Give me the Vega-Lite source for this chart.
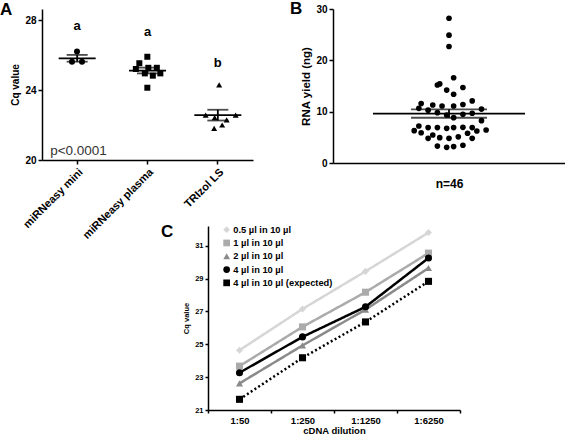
{
  "$schema": "https://vega.github.io/schema/vega-lite/v6.json",
  "background": "white",
  "padding": {"left": 0, "top": 0, "right": 0, "bottom": 0},
  "config": {
    "font": "Liberation Sans",
    "view": {"stroke": null},
    "axis": {"grid": false, "domainColor": "black", "domainWidth": 1.5, "tickColor": "black", "tickWidth": 1.5, "tickSize": 4, "labelColor": "black", "titleColor": "black", "labelFontWeight": "bold", "titleFontWeight": "bold", "labelFont": "Liberation Sans", "titleFont": "Liberation Sans"},
    "title": {"font": "Liberation Sans", "fontWeight": "bold", "fontSize": 17, "anchor": "start", "frame": "group", "color": "black", "baseline": "alphabetic"}
  },
  "datasets": {
    "cq": [
      {"method": "miRNeasy mini", "cq": 26.2, "col": 0},
      {"method": "miRNeasy mini", "cq": 25.62, "col": -1},
      {"method": "miRNeasy mini", "cq": 25.62, "col": 1},
      {"method": "miRNeasy plasma", "cq": 25.9, "col": 0},
      {"method": "miRNeasy plasma", "cq": 25.53, "col": -1.6},
      {"method": "miRNeasy plasma", "cq": 25.2, "col": -2.3},
      {"method": "miRNeasy plasma", "cq": 25.27, "col": 0.2},
      {"method": "miRNeasy plasma", "cq": 25.27, "col": 1.9},
      {"method": "miRNeasy plasma", "cq": 24.95, "col": -0.5},
      {"method": "miRNeasy plasma", "cq": 24.82, "col": 1.1},
      {"method": "miRNeasy plasma", "cq": 24.95, "col": 2.6},
      {"method": "miRNeasy plasma", "cq": 24.13, "col": 0},
      {"method": "TRIzol LS", "cq": 24.29, "col": 0.3},
      {"method": "TRIzol LS", "cq": 22.57, "col": -2.4},
      {"method": "TRIzol LS", "cq": 22.57, "col": 3.6},
      {"method": "TRIzol LS", "cq": 22.42, "col": -0.6},
      {"method": "TRIzol LS", "cq": 22.29, "col": 1.8},
      {"method": "TRIzol LS", "cq": 22.0, "col": 0.9},
      {"method": "TRIzol LS", "cq": 21.81, "col": -0.7}
    ],
    "letters": [
      {"method": "miRNeasy mini", "label": "a", "pos": 27.66},
      {"method": "miRNeasy plasma", "label": "a", "pos": 27.3},
      {"method": "TRIzol LS", "label": "b", "pos": 25.53}
    ],
    "yield": [
      {"sample": "plasma", "ng": 28.2, "col": 0},
      {"sample": "plasma", "ng": 24.9, "col": 0},
      {"sample": "plasma", "ng": 22.7, "col": 0},
      {"sample": "plasma", "ng": 16.6, "col": 1},
      {"sample": "plasma", "ng": 15.2, "col": -2.5},
      {"sample": "plasma", "ng": 15.4, "col": -2},
      {"sample": "plasma", "ng": 14.2, "col": -0.5},
      {"sample": "plasma", "ng": 14.7, "col": 3},
      {"sample": "plasma", "ng": 13.4, "col": 1},
      {"sample": "plasma", "ng": 11.6, "col": -6},
      {"sample": "plasma", "ng": 11.3, "col": -3.5},
      {"sample": "plasma", "ng": 11.1, "col": -1.5},
      {"sample": "plasma", "ng": 11.1, "col": 1},
      {"sample": "plasma", "ng": 11.4, "col": 3},
      {"sample": "plasma", "ng": 12.1, "col": 5},
      {"sample": "plasma", "ng": 10.65, "col": -6.5},
      {"sample": "plasma", "ng": 10.3, "col": -4.5},
      {"sample": "plasma", "ng": 10.5, "col": 7},
      {"sample": "plasma", "ng": 9.8, "col": -2.5},
      {"sample": "plasma", "ng": 9.35, "col": -0.5},
      {"sample": "plasma", "ng": 8.83, "col": 1},
      {"sample": "plasma", "ng": 9.5, "col": 3},
      {"sample": "plasma", "ng": 9.7, "col": 5},
      {"sample": "plasma", "ng": 8.25, "col": 7},
      {"sample": "plasma", "ng": 7.2, "col": -6.5},
      {"sample": "plasma", "ng": 6.9, "col": -4.5},
      {"sample": "plasma", "ng": 6.9, "col": -2.5},
      {"sample": "plasma", "ng": 6.75, "col": -0.5},
      {"sample": "plasma", "ng": 6.9, "col": 1},
      {"sample": "plasma", "ng": 6.95, "col": 3},
      {"sample": "plasma", "ng": 6.9, "col": 5},
      {"sample": "plasma", "ng": 6.3, "col": -7.5},
      {"sample": "plasma", "ng": 5.9, "col": -6},
      {"sample": "plasma", "ng": 6.23, "col": 6},
      {"sample": "plasma", "ng": 6.43, "col": 8},
      {"sample": "plasma", "ng": 5.45, "col": -3.5},
      {"sample": "plasma", "ng": 4.8, "col": -4.5},
      {"sample": "plasma", "ng": 4.93, "col": -2},
      {"sample": "plasma", "ng": 4.8, "col": 0},
      {"sample": "plasma", "ng": 5.1, "col": 2},
      {"sample": "plasma", "ng": 5.8, "col": 4},
      {"sample": "plasma", "ng": 4.8, "col": 5},
      {"sample": "plasma", "ng": 3.3, "col": -2.5},
      {"sample": "plasma", "ng": 3.05, "col": -0.5},
      {"sample": "plasma", "ng": 3.2, "col": 1},
      {"sample": "plasma", "ng": 3.45, "col": 3}
    ],
    "dil": [
      {"series": "0.5 µl in 10 µl", "dilution": "1:50", "cq": 24.64},
      {"series": "0.5 µl in 10 µl", "dilution": "1:250", "cq": 27.15},
      {"series": "0.5 µl in 10 µl", "dilution": "1:1250", "cq": 29.44},
      {"series": "0.5 µl in 10 µl", "dilution": "1:6250", "cq": 31.8},
      {"series": "1 µl in 10 µl", "dilution": "1:50", "cq": 23.67},
      {"series": "1 µl in 10 µl", "dilution": "1:250", "cq": 26.06},
      {"series": "1 µl in 10 µl", "dilution": "1:1250", "cq": 28.17},
      {"series": "1 µl in 10 µl", "dilution": "1:6250", "cq": 30.55},
      {"series": "2 µl in 10 µl", "dilution": "1:50", "cq": 22.62},
      {"series": "2 µl in 10 µl", "dilution": "1:250", "cq": 24.93},
      {"series": "2 µl in 10 µl", "dilution": "1:1250", "cq": 27.11},
      {"series": "2 µl in 10 µl", "dilution": "1:6250", "cq": 29.64},
      {"series": "4 µl in 10 µl", "dilution": "1:50", "cq": 23.27},
      {"series": "4 µl in 10 µl", "dilution": "1:250", "cq": 25.45},
      {"series": "4 µl in 10 µl", "dilution": "1:1250", "cq": 27.28},
      {"series": "4 µl in 10 µl", "dilution": "1:6250", "cq": 30.25},
      {"series": "4 µl in 10 µl (expected)", "dilution": "1:50", "cq": 21.65},
      {"series": "4 µl in 10 µl (expected)", "dilution": "1:250", "cq": 24.18},
      {"series": "4 µl in 10 µl (expected)", "dilution": "1:1250", "cq": 26.36},
      {"series": "4 µl in 10 µl (expected)", "dilution": "1:6250", "cq": 28.83}
    ]
  },
  "bounds": "flush",
  "spacing": 217,
  "resolve": {"scale": {"xOffset": "independent", "color": "independent", "shape": "independent", "strokeDash": "independent"}, "legend": {"color": "independent", "shape": "independent", "strokeDash": "independent"}},
  "vconcat": [
    {
      "bounds": "flush",
      "spacing": 80,
      "resolve": {"scale": {"xOffset": "independent", "shape": "independent"}, "legend": {"shape": "independent"}},
      "hconcat": [
        {
          "width": 211,
          "height": 151,
          "title": {"text": "A", "dx": -42, "offset": -10},
          "layer": [
            {
              "data": {"name": "cq"},
              "mark": {"type": "point", "filled": true, "size": 36, "opacity": 1, "color": "black"},
              "encoding": {
                "x": {"field": "method", "type": "nominal", "title": null, "sort": ["miRNeasy mini", "miRNeasy plasma", "TRIzol LS"], "scale": {"type": "band", "paddingInner": 0, "paddingOuter": 0}, "axis": {"labelAngle": -45, "labelFontSize": 11}},
                "xOffset": {"field": "col", "type": "quantitative", "scale": {"domain": [-7, 7], "range": [0, 70]}},
                "y": {"field": "cq", "type": "quantitative", "title": "Cq value", "scale": {"domain": [20, 28.63], "nice": false, "zero": false}, "axis": {"values": [20, 22, 24, 26, 28], "labelFontSize": 10, "titleFontSize": 10}},
                "shape": {"field": "method", "type": "nominal", "scale": {"domain": ["miRNeasy mini", "miRNeasy plasma", "TRIzol LS"], "range": ["circle", "square", "triangle-up"]}, "legend": null}
              }
            },
            {
              "data": {"name": "cq"},
              "mark": {"type": "tick", "color": "black", "thickness": 1.8, "orient": "horizontal"},
              "encoding": {
                "x": {"field": "method", "type": "nominal", "title": null, "sort": ["miRNeasy mini", "miRNeasy plasma", "TRIzol LS"]},
                "y": {"aggregate": "mean", "field": "cq", "type": "quantitative", "title": "Cq value"},
                "size": {"condition": {"test": "datum.method === 'TRIzol LS'", "value": 47}, "value": 37}
              }
            },
            {
              "data": {"name": "cq"},
              "mark": {"type": "errorbar", "extent": "stderr", "ticks": true, "size": 21, "thickness": 1.8, "color": "black"},
              "encoding": {
                "x": {"field": "method", "type": "nominal", "title": null, "sort": ["miRNeasy mini", "miRNeasy plasma", "TRIzol LS"]},
                "y": {"field": "cq", "type": "quantitative", "title": "Cq value"}
              }
            },
            {
              "data": {"name": "letters"},
              "mark": {"type": "text", "fontWeight": "bold", "fontSize": 13, "baseline": "middle", "color": "black"},
              "encoding": {
                "x": {"field": "method", "type": "nominal", "title": null, "sort": ["miRNeasy mini", "miRNeasy plasma", "TRIzol LS"]},
                "y": {"field": "pos", "type": "quantitative", "title": "Cq value"},
                "text": {"field": "label"}
              }
            },
            {
              "data": {"values": [{"note": "p<0.0001"}]},
              "mark": {"type": "text", "fontSize": 13.5, "align": "left", "baseline": "alphabetic", "dx": -27, "color": "#333333"},
              "encoding": {
                "x": {"datum": "miRNeasy mini", "type": "nominal", "title": null},
                "y": {"datum": 20.29, "type": "quantitative", "title": "Cq value"},
                "text": {"field": "note"}
              }
            }
          ]
        },
        {
          "width": 232,
          "height": 154,
          "title": {"text": "B", "dx": -43, "offset": -14},
          "layer": [
            {
              "data": {"name": "yield"},
              "mark": {"type": "circle", "size": 32, "color": "black", "opacity": 1},
              "encoding": {
                "x": {"field": "sample", "type": "nominal", "title": "n=46", "scale": {"type": "band", "paddingInner": 0, "paddingOuter": 0}, "axis": {"labels": false, "ticks": false, "titleFontSize": 12, "titlePadding": 15}},
                "xOffset": {"field": "col", "type": "quantitative", "scale": {"domain": [-25, 25], "range": [0, 232]}},
                "y": {"field": "ng", "type": "quantitative", "title": "RNA yield (ng)", "scale": {"domain": [0, 30], "nice": false}, "axis": {"values": [0, 10, 20, 30], "labelFontSize": 10, "titleFontSize": 11.5}}
              }
            },
            {
              "data": {"name": "yield"},
              "mark": {"type": "tick", "color": "black", "thickness": 1.8, "orient": "horizontal"},
              "encoding": {
                "x": {"field": "sample", "type": "nominal", "title": "n=46"},
                "y": {"aggregate": "mean", "field": "ng", "type": "quantitative", "title": "RNA yield (ng)"},
                "size": {"value": 152}
              }
            },
            {
              "data": {"name": "yield"},
              "mark": {"type": "errorbar", "extent": "stderr", "ticks": true, "size": 76, "thickness": 1.8, "color": "black"},
              "encoding": {
                "x": {"field": "sample", "type": "nominal", "title": "n=46"},
                "y": {"field": "ng", "type": "quantitative", "title": "RNA yield (ng)"}
              }
            }
          ]
        }
      ]
    },
    {
      "bounds": "flush",
      "spacing": 165,
      "resolve": {"scale": {"color": "independent", "shape": "independent", "strokeDash": "independent"}, "legend": {"color": "independent", "shape": "independent", "strokeDash": "independent"}},
      "hconcat": [
        {
          "width": 1,
          "height": 1,
          "data": {"values": [{"blank": 1}]},
          "mark": {"type": "point", "opacity": 0},
          "encoding": {}
        },
        {
          "width": 252,
          "height": 184,
          "title": {"text": "C", "dx": -47, "offset": -16},
          "data": {"name": "dil"},
          "encoding": {
            "x": {"field": "dilution", "type": "ordinal", "title": "cDNA dilution", "sort": ["1:50", "1:250", "1:1250", "1:6250"], "scale": {"type": "band", "paddingInner": 0, "paddingOuter": 0}, "axis": {"labelAngle": 0, "tickBand": "extent", "labelFontSize": 9.5, "titleFontSize": 9.5, "tickSize": 3, "titlePadding": 1}},
            "y": {"field": "cq", "type": "quantitative", "title": "Cq value", "scale": {"domain": [21, 32.2], "nice": false, "zero": false}, "axis": {"values": [21, 23, 25, 27, 29, 31], "labelFontSize": 7.5, "titleFontSize": 7.5, "tickSize": 3}},
            "color": {"field": "series", "type": "nominal", "scale": {"domain": ["0.5 µl in 10 µl", "1 µl in 10 µl", "2 µl in 10 µl", "4 µl in 10 µl", "4 µl in 10 µl (expected)"], "range": ["#d6d6d6", "#ababab", "#8a8a8a", "#000000", "#000000"]}, "legend": {"title": null, "orient": "none", "legendX": 14, "legendY": -1, "padding": 0, "labelFontSize": 9.3, "labelFontWeight": "bold", "labelColor": "black", "symbolSize": 45, "symbolStrokeWidth": 0, "rowPadding": 3.3, "labelOffset": 2}}
          },
          "layer": [
            {
              "mark": {"type": "line", "strokeWidth": 2.5},
              "encoding": {
                "strokeDash": {"field": "series", "type": "nominal", "scale": {"domain": ["0.5 µl in 10 µl", "1 µl in 10 µl", "2 µl in 10 µl", "4 µl in 10 µl", "4 µl in 10 µl (expected)"], "range": [[1, 0], [1, 0], [1, 0], [1, 0], [2, 2.5]]}, "legend": null}
              }
            },
            {
              "mark": {"type": "point", "filled": true, "size": 50, "opacity": 1},
              "encoding": {
                "shape": {"field": "series", "type": "nominal", "scale": {"domain": ["0.5 µl in 10 µl", "1 µl in 10 µl", "2 µl in 10 µl", "4 µl in 10 µl", "4 µl in 10 µl (expected)"], "range": ["diamond", "square", "triangle-up", "circle", "square"]}, "legend": {"title": null, "orient": "none", "legendX": 14, "legendY": -1, "padding": 0, "labelFontSize": 9.3, "labelFontWeight": "bold", "labelColor": "black", "symbolSize": 45, "symbolStrokeWidth": 0, "rowPadding": 3.3, "labelOffset": 2}}
              }
            }
          ]
        }
      ]
    }
  ]
}
